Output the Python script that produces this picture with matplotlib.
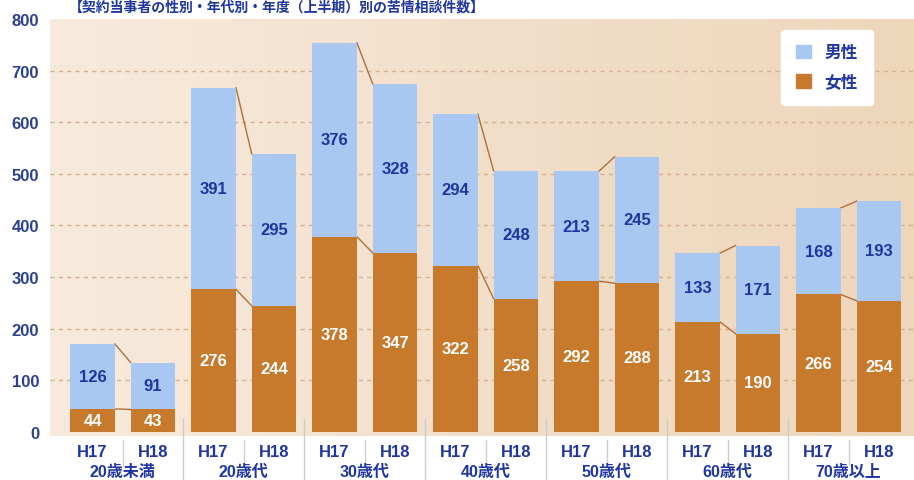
import matplotlib.pyplot as plt
import matplotlib.transforms as mtransforms
from matplotlib.colors import LinearSegmentedColormap
import numpy as np

plt.rcParams['font.family'] = ['Liberation Sans', 'Noto Sans CJK JP', 'DejaVu Sans']

groups = ['20歳未満', '20歳代', '30歳代', '40歳代', '50歳代', '60歳代', '70歳以上']
years = ['H17', 'H18']
female_h17 = [44, 276, 378, 322, 292, 213, 266]
female_h18 = [43, 244, 347, 258, 288, 190, 254]
male_h17 = [126, 391, 376, 294, 213, 133, 168]
male_h18 = [91, 295, 328, 248, 245, 171, 193]
title = '【契約当事者の性別・年代別・年度（上半期）別の苦情相談件数】'

blue = '#a8c8f2'
brown = '#c87a2c'
text_blue = '#1f35a0'
line_brown = '#b0703c'

fig = plt.figure(figsize=(9.14, 4.81), dpi=100)
ax = fig.add_axes([0.055, 0.092, 0.945, 0.866])

# soft warm background gradient
cmap = LinearSegmentedColormap.from_list('bg', ['#f8ebdd', '#f2dfca', '#eed6bb'])
grad = np.linspace(0, 1, 256).reshape(1, -1)
ax.imshow(grad, extent=[0, 1, 0, 1], transform=ax.transAxes, aspect='auto',
          cmap=cmap, zorder=0)

x = np.arange(len(groups))
off = 0.25
w = 0.37
xs = [x - off, x + off]
fem = [np.array(female_h17), np.array(female_h18)]
mal = [np.array(male_h17), np.array(male_h18)]

for y in range(100, 800, 100):
    ax.axhline(y, color='#d6b090', lw=1, ls=(0, (3, 3)), zorder=1)

for k in range(2):
    ax.bar(xs[k], fem[k], width=w, color=brown, zorder=2)
    ax.bar(xs[k], mal[k], width=w, bottom=fem[k], color=blue, zorder=2)
    for xi, f, m in zip(xs[k], fem[k], mal[k]):
        ax.text(xi, f / 2, str(f), ha='center', va='center', color='white',
                fontsize=12, fontweight='bold', zorder=3)
        ax.text(xi, f + m / 2, str(m), ha='center', va='center', color=text_blue,
                fontsize=12, fontweight='bold', zorder=3)

# connectors between H17 and H18
for i in range(len(groups)):
    x0 = xs[0][i] + w / 2
    x1 = xs[1][i] - w / 2
    ax.plot([x0, x1], [fem[0][i], fem[1][i]], color=line_brown, lw=1, zorder=1.5)
    ax.plot([x0, x1], [fem[0][i] + mal[0][i], fem[1][i] + mal[1][i]],
            color=line_brown, lw=1, zorder=1.5)

ax.set_xlim(-0.60, 6.54)
ax.set_ylim(-8, 800)
ax.set_yticks(range(0, 900, 100))
ax.tick_params(axis='y', length=0, pad=8, labelsize=12, labelcolor='#2a3f90')
for lab in ax.get_yticklabels():
    lab.set_fontweight('bold')
ax.set_xticks([])
for s in ax.spines.values():
    s.set_visible(False)

trans = mtransforms.blended_transform_factory(ax.transData, ax.transAxes)
for i in range(len(groups)):
    for k in range(2):
        ax.text(xs[k][i], -0.038, years[k], transform=trans, ha='center', va='center',
                color=text_blue, fontsize=12, fontweight='bold')
    ax.text(x[i], -0.085, groups[i], transform=trans, ha='center', va='center',
            color=text_blue, fontsize=11.5, fontweight='bold')
    ax.plot([x[i], x[i]], [-0.01, -0.07], transform=trans, color='#cccccc', lw=1,
            clip_on=False)
    if i > 0:
        ax.plot([x[i] - 0.5, x[i] - 0.5], [0.04, -0.12], transform=trans,
                color='#cccccc', lw=1, clip_on=False)

h1 = plt.Rectangle((0, 0), 1, 1, color=blue)
h2 = plt.Rectangle((0, 0), 1, 1, color=brown)
leg = ax.legend([h1, h2], ['男性', '女性'], loc='upper right', bbox_to_anchor=(0.962, 0.995),
                frameon=True, facecolor='white', edgecolor='white', framealpha=1,
                handlelength=0.9, handleheight=0.9, borderpad=0.9, labelspacing=0.8,
                prop={'size': 12, 'weight': 'bold'})
for t in leg.get_texts():
    t.set_color(text_blue)

fig.text(0.075, 0.998, title, ha='left', va='top', color=text_blue,
         fontsize=10, fontweight='bold')

fig.savefig('out.png', dpi=100)
